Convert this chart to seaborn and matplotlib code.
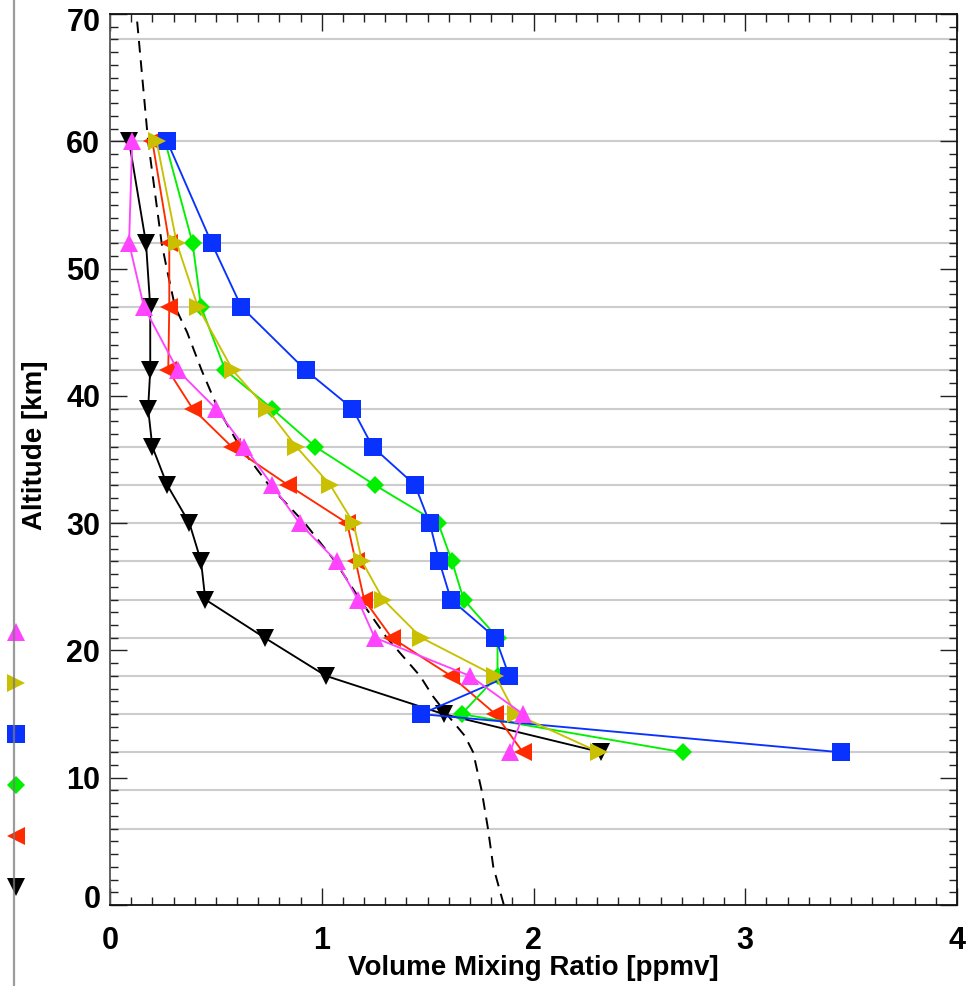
import matplotlib
matplotlib.use("Agg")
import matplotlib.pyplot as plt
from matplotlib.lines import Line2D
from matplotlib.ticker import MultipleLocator
from matplotlib.transforms import ScaledTranslation
import seaborn as sns

# Retrieval levels [km]
altitude_km = [60, 52, 47, 42, 39, 36, 33, 30, 27, 24, 21, 18, 15, 12]

# Retrieved volume mixing ratio profiles [ppmv]
vmr_black = [0.09, 0.17, 0.19, 0.19, 0.18, 0.20, 0.27, 0.375, 0.43, 0.45, 0.73, 1.02, 1.575, 2.32]
vmr_red = [0.20, 0.28, 0.28, 0.275, 0.39, 0.575, 0.84, 1.12, 1.16, 1.20, 1.33, 1.61, 1.82, 1.95]
vmr_green = [0.26, 0.39, 0.43, 0.545, 0.765, 0.97, 1.25, 1.55, 1.615, 1.67, 1.83, 1.83, 1.66, 2.705]
vmr_blue = [0.27, 0.48, 0.62, 0.925, 1.145, 1.24, 1.44, 1.51, 1.555, 1.61, 1.82, 1.885, 1.47, 3.45]
vmr_yellow = [0.22, 0.315, 0.415, 0.58, 0.74, 0.88, 1.04, 1.15, 1.19, 1.29, 1.47, 1.82, 1.915, 2.31]
vmr_magenta = [0.105, 0.09, 0.16, 0.32, 0.50, 0.635, 0.765, 0.895, 1.07, 1.17, 1.25, 1.70, 1.95, 1.89]

# A priori profile
apriori_alt = [0, 3, 6, 9, 12, 13.3, 15, 16.4, 18, 21, 24, 27, 30, 33, 36, 39, 42, 45, 47, 50, 52, 60, 70]
apriori_vmr = [1.86, 1.81, 1.785, 1.755, 1.715, 1.675, 1.59, 1.525, 1.464, 1.307, 1.18, 1.063,
               0.92, 0.75, 0.614, 0.51, 0.433, 0.364, 0.307, 0.268, 0.244, 0.18, 0.125]

# Horizontal reference levels
grid_levels = [6, 9, 12, 15, 18, 21, 24, 27, 30, 33, 36, 39, 42, 47, 52, 60, 68]

x_ticks = [0, 1, 2, 3, 4]
y_ticks = [0, 10, 20, 30, 40, 50, 60, 70]

series = [
    (vmr_black, "#000000", "v", 13.0),
    (vmr_red, "#ff2a00", "<", 13.0),
    (vmr_green, "#00f000", "D", 9.0),
    (vmr_blue, "#0a32ff", "s", 12.5),
    (vmr_yellow, "#c8c000", ">", 13.0),
    (vmr_magenta, "#ff44ff", "^", 13.0),
]

sns.set_style("ticks")
plt.rcParams["font.family"] = ["Liberation Sans", "DejaVu Sans"]
plt.rcParams["font.weight"] = "bold"
plt.rcParams["text.color"] = "black"
plt.rcParams["axes.labelcolor"] = "black"
plt.rcParams["xtick.labelcolor"] = "black"
plt.rcParams["ytick.labelcolor"] = "black"

W, H = 976, 986
fig = plt.figure(figsize=(W / 100, H / 100), dpi=100)
ax = fig.add_axes([110 / W, 1 - 905 / H, 847 / W, 891 / H])

for lvl in grid_levels:
    ax.axhline(lvl, color="#cccccc", lw=1.5, zorder=0.5)

sns.lineplot(x=apriori_vmr, y=apriori_alt, sort=False, estimator=None, ax=ax,
             color="black", lw=1.4, linestyle=(0, (6, 4)), zorder=1)

for i, (vals, col, mk, ms) in enumerate(series):
    sns.lineplot(x=vals, y=altitude_km, sort=False, estimator=None, ax=ax,
                 color=col, marker=mk, markersize=ms, markeredgewidth=0,
                 lw=1.35, zorder=2 + i)

ax.set_xlim(0, 4)
ax.set_ylim(0, 70)
ax.set_xticks(x_ticks)
ax.set_yticks(y_ticks)
ax.set_xticklabels([str(v) for v in x_ticks])
ax.set_yticklabels([str(v) for v in y_ticks])
ax.xaxis.set_minor_locator(MultipleLocator(0.1))
ax.yaxis.set_minor_locator(MultipleLocator(1))
ax.tick_params(which="both", direction="in", top=True, right=True, color="#222222",
               width=1.0, labelcolor="black")
ax.tick_params(which="major", length=12)
ax.tick_params(which="minor", length=6)
ax.tick_params(axis="x", which="major", pad=15, labelsize=22)
ax.tick_params(axis="y", which="major", pad=7, labelsize=22)

for sp in ax.spines.values():
    sp.set_color("#111111")
    sp.set_linewidth(1.3)
ax.spines["left"].set_color("#555555")

# keep the end labels of the altitude axis inside the frame height
ylabels = ax.get_yticklabels()
ylabels[0].set_transform(ylabels[0].get_transform() + ScaledTranslation(0, 0.08, fig.dpi_scale_trans))
ylabels[-1].set_transform(ylabels[-1].get_transform() + ScaledTranslation(0, -0.06, fig.dpi_scale_trans))
for lab in ylabels + ax.get_xticklabels():
    lab.set_fontweight("bold")

ax.set_xlabel("Volume Mixing Ratio [ppmv]", fontsize=20, fontweight="bold", va="center", color="black")
ax.set_ylabel("Altitude [km]", fontsize=20, fontweight="bold", va="center", color="black")
ax.xaxis.set_label_coords(0.5, -0.0707)
ax.yaxis.set_label_coords(-0.0885, 0.516)

# Key markers along the left frame edge
key_y = [632, 683, 734, 785, 836, 887]
key_order = [5, 4, 3, 2, 1, 0]
for ypx, idx in zip(key_y, key_order):
    _, col, mk, ms = series[idx]
    fig.add_artist(Line2D([15.5 / W], [1 - ypx / H], transform=fig.transFigure,
                          marker=mk, markersize=ms, color=col, markeredgewidth=0,
                          linestyle="none", zorder=3))
fig.add_artist(Line2D([13.5 / W, 13.5 / W], [0, 1], transform=fig.transFigure,
                      color="#7a7a7a", lw=1.6, alpha=0.75, zorder=4))

fig.savefig("out.png", dpi=100)
